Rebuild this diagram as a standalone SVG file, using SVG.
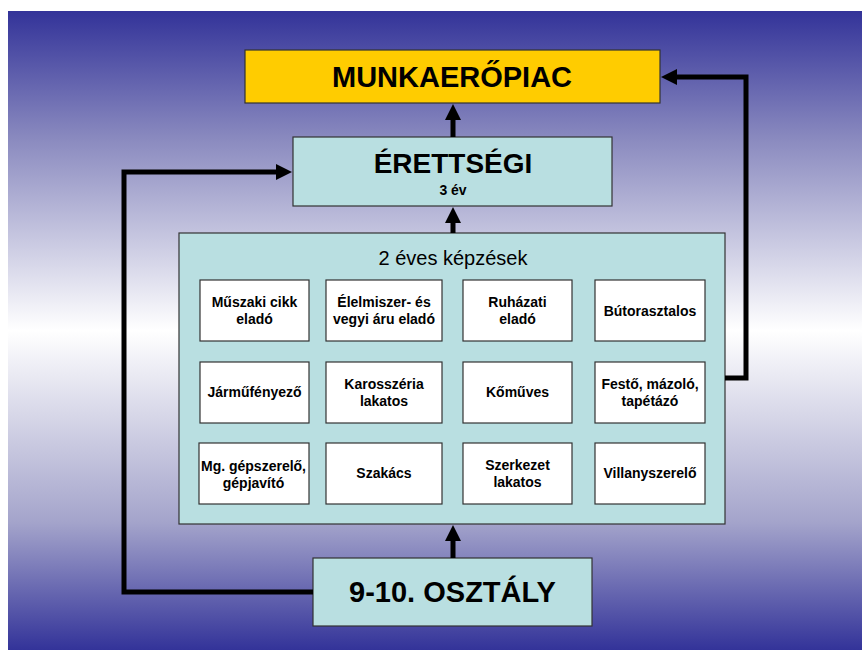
<svg xmlns="http://www.w3.org/2000/svg" width="862" height="650" viewBox="0 0 862 650">
  <defs>
    <linearGradient id="bg" x1="0" y1="0" x2="0" y2="1">
      <stop offset="0" stop-color="#333399"/>
      <stop offset="0.2" stop-color="#8a8abf"/>
      <stop offset="0.5" stop-color="#ffffff"/>
      <stop offset="0.8" stop-color="#a4a4cb"/>
      <stop offset="1" stop-color="#333399"/>
    </linearGradient>
    <marker id="arrow" markerUnits="userSpaceOnUse" markerWidth="16" markerHeight="16" refX="8" refY="8" orient="auto">
      <path d="M0,0 L16,8 L0,16 z" fill="#000"/>
    </marker>
    <style>
      .teal { fill: #b9dfe1; stroke: #333; stroke-width: 1.2; }
      .card { fill: #ffffff; stroke: #333; stroke-width: 1.2; }
      .big { font-family: "Liberation Sans", Arial, sans-serif; font-weight: bold; text-anchor: middle; fill: #000; }
      .lbl { font-family: "Liberation Sans", Arial, sans-serif; font-weight: bold; font-size: 14px; text-anchor: middle; fill: #000; }
      .conn { fill: none; stroke: #000; stroke-width: 5; marker-end: url(#arrow); }
    </style>
  </defs>

  <rect x="0" y="0" width="862" height="650" fill="#ffffff"/>
  <rect x="8" y="11" width="854" height="639" fill="url(#bg)"/>

  <g id="munkaeropiac">
    <rect x="245" y="50" width="415" height="53" fill="#ffcc00" stroke="#333" stroke-width="1.2"/>
    <text class="big" x="452" y="87" font-size="29">MUNKAERŐPIAC</text>
  </g>

  <g id="erettsegi">
    <rect class="teal" x="293" y="137" width="319" height="69"/>
    <text class="big" x="453" y="173" font-size="28">ÉRETTSÉGI</text>
    <text class="big" x="453" y="195" font-size="14">3 év</text>
  </g>

  <g id="kepzesek">
    <rect class="teal" x="179" y="233" width="546" height="291"/>
    <text x="453" y="265" font-family="'Liberation Sans', Arial, sans-serif" font-size="20" text-anchor="middle" fill="#000">2 éves képzések</text>
  </g>

  <g id="muszaki">
    <rect class="card" x="200" y="280" width="109" height="61"/>
    <text class="lbl" x="254.5" y="307">Műszaki cikk</text>
    <text class="lbl" x="254.5" y="324">eladó</text>
  </g>
  <g id="elelmiszer">
    <rect class="card" x="326" y="280" width="116" height="61"/>
    <text class="lbl" x="384" y="307">Élelmiszer- és</text>
    <text class="lbl" x="384" y="324">vegyi áru eladó</text>
  </g>
  <g id="ruhazati">
    <rect class="card" x="463" y="280" width="109" height="61"/>
    <text class="lbl" x="517.5" y="307">Ruházati</text>
    <text class="lbl" x="517.5" y="324">eladó</text>
  </g>
  <g id="butorasztalos">
    <rect class="card" x="595" y="280" width="110" height="61"/>
    <text class="lbl" x="650" y="315.5">Bútorasztalos</text>
  </g>

  <g id="jarmufenyezo">
    <rect class="card" x="200" y="362" width="109" height="61"/>
    <text class="lbl" x="254.5" y="397">Járműfényező</text>
  </g>
  <g id="karosszeria">
    <rect class="card" x="326" y="362" width="116" height="61"/>
    <text class="lbl" x="384" y="388.5">Karosszéria</text>
    <text class="lbl" x="384" y="405.5">lakatos</text>
  </g>
  <g id="komuves">
    <rect class="card" x="463" y="362" width="109" height="61"/>
    <text class="lbl" x="517.5" y="397">Kőműves</text>
  </g>
  <g id="festo">
    <rect class="card" x="595" y="362" width="110" height="61"/>
    <text class="lbl" x="650" y="388.5">Festő, mázoló,</text>
    <text class="lbl" x="650" y="405.5">tapétázó</text>
  </g>

  <g id="gepszerelo">
    <rect class="card" x="199" y="443" width="110" height="61"/>
    <text class="lbl" x="253.5" y="471">Mg. gépszerelő,</text>
    <text class="lbl" x="253.5" y="488">gépjavító</text>
  </g>
  <g id="szakacs">
    <rect class="card" x="326" y="443" width="116" height="61"/>
    <text class="lbl" x="384" y="478">Szakács</text>
  </g>
  <g id="szerkezet">
    <rect class="card" x="463" y="443" width="109" height="61"/>
    <text class="lbl" x="517.5" y="470">Szerkezet</text>
    <text class="lbl" x="517.5" y="487">lakatos</text>
  </g>
  <g id="villanyszerelo">
    <rect class="card" x="595" y="443" width="110" height="61"/>
    <text class="lbl" x="650" y="478">Villanyszerelő</text>
  </g>

  <g id="osztaly">
    <rect class="teal" x="313" y="558" width="279" height="68"/>
    <text class="big" x="452.5" y="602" font-size="29">9-10. OSZTÁLY</text>
  </g>

  <g id="connectors">
    <path class="conn" d="M453,558 L453,533"/>
    <path class="conn" d="M453,233 L453,215"/>
    <path class="conn" d="M453,137 L453,112"/>
    <path class="conn" d="M313,592 L124,592 L124,172 L284,172"/>
    <path class="conn" d="M725,378 L746,378 L746,77 L669,77"/>
  </g>
</svg>
